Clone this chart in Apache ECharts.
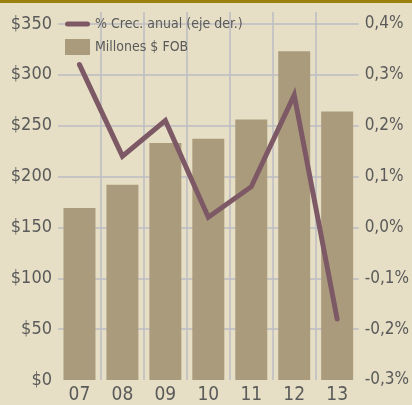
<!DOCTYPE html>
<html>
<head>
<meta charset="utf-8">
<script src="https://cdn.jsdelivr.net/npm/echarts@6/dist/echarts.min.js"></script>
<style>
  html, body { margin: 0; padding: 0; background: #e6dfc5; }
  #wrap { position: relative; width: 412px; height: 405px; overflow: hidden; }
  #chart { width: 412px; height: 405px; }
  #topbar { position: absolute; left: 0; top: 0; width: 412px; height: 3px; background: #9c800d; }
</style>
</head>
<body>
<div id="wrap">
  <div id="chart"></div>
  <div id="topbar"></div>
</div>
<script>
const years = ['07', '08', '09', '10', '11', '12', '13']
const fobMillions = [169, 192, 233, 237, 256, 323, 264]
const annualGrowth = [0.32, 0.14, 0.21, 0.02, 0.08, 0.26, -0.18]

const font = 'DejaVu Sans Condensed'
const textColor = '#5a5a5a'
const gridColor = '#bcbcc3'

const chart = echarts.init(document.getElementById('chart'))

// top of plot sits a bit above the last labelled tick, like the original
const leftMax = 361.7
const rightMin = -0.3
const rightMax = rightMin + 0.7 * leftMax / 350

const option = {
  backgroundColor: 'transparent',
  animation: false,
  grid: { left: 58, right: 45, top: 12, bottom: 22, containLabel: false },
  legend: {
    orient: 'vertical',
    left: 60,
    top: 12,
    itemWidth: 25,
    itemHeight: 16,
    itemGap: 8,
    textStyle: { fontFamily: font, fontSize: 14, color: textColor },
    data: [
      { name: '% Crec. anual (eje der.)', icon: 'path://M2,0 L22,0 A2.5,2.5 0 0 1 22,5 L2,5 A2.5,2.5 0 0 1 2,0 Z' },
      { name: 'Millones $ FOB', icon: 'rect' }
    ]
  },
  xAxis: {
    type: 'category',
    data: years,
    axisLine: { show: false },
    axisTick: { show: false },
    axisLabel: { fontFamily: font, fontSize: 19, color: textColor, margin: 6 },
    splitLine: { show: true, showMinLine: false, showMaxLine: false, lineStyle: { color: gridColor, width: 1.5 } }
  },
  yAxis: [
    {
      type: 'value',
      min: 0,
      max: leftMax,
      interval: 50,
      axisLine: { show: false },
      axisTick: { show: false },
      axisLabel: {
        fontFamily: font, fontSize: 18, color: textColor, margin: 6,
        formatter: v => (v % 50 === 0 ? '$' + v : '')
      },
      splitLine: { show: true, showMinLine: false, showMaxLine: false, lineStyle: { color: gridColor, width: 1.5 } }
    },
    {
      type: 'value',
      min: rightMin,
      max: rightMax,
      interval: 0.1,
      axisLine: { show: false },
      axisTick: { show: false },
      splitLine: { show: false },
      axisLabel: {
        fontFamily: font, fontSize: 17, color: textColor, margin: 6,
        formatter: v => (v > 0.405 ? '' : v.toFixed(1).replace('.', ',') + '%')
      }
    }
  ],
  series: [
    {
      name: 'Millones $ FOB',
      type: 'bar',
      data: fobMillions,
      barWidth: 32,
      itemStyle: { color: '#ab9b7d' }
    },
    {
      name: '% Crec. anual (eje der.)',
      type: 'line',
      yAxisIndex: 1,
      data: annualGrowth,
      symbol: 'none',
      lineStyle: { color: '#7d5966', width: 5, cap: 'round', join: 'miter' },
      itemStyle: { color: '#7d5966' }
    }
  ]
}

chart.setOption(option)
</script>
</body>
</html>
